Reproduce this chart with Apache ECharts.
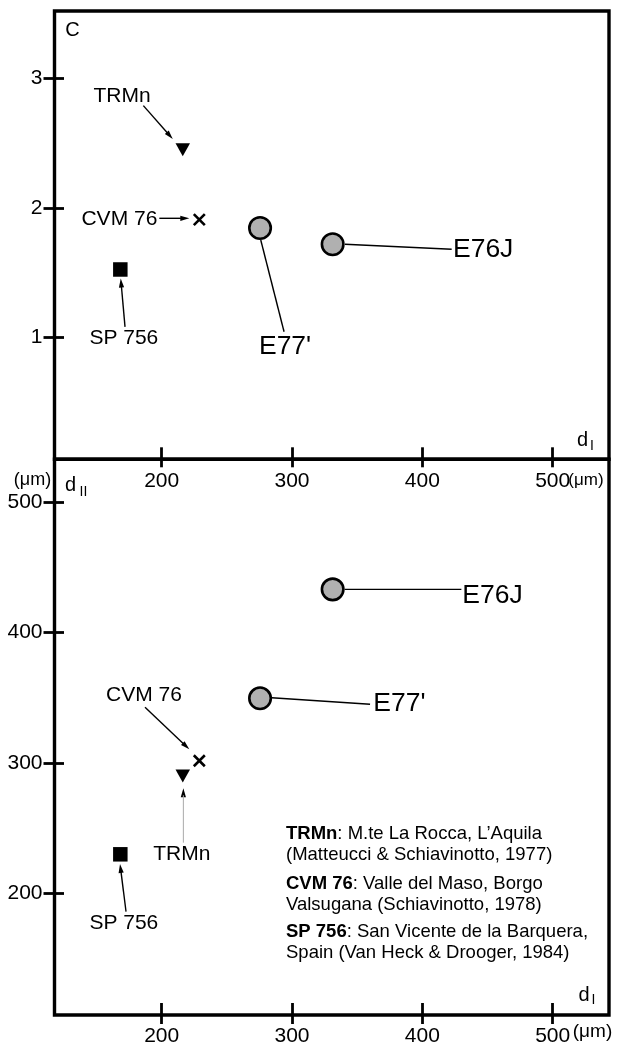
<!DOCTYPE html>
<html><head><meta charset="utf-8">
<script src="https://cdn.jsdelivr.net/npm/echarts@6/dist/echarts.min.js"></script>
<style>html,body{margin:0;padding:0;background:#fff}#c{width:617px;height:1047px}</style>
</head><body><div id="c"></div>
<script>
// ---- data ----
const samples = ['TRMn', 'CVM 76', 'SP 756', "E77'", 'E76J'];
const dI  = [216.2, 228.9, 168.3, 275.5, 331.2];
const C   = [2.45, 1.91, 1.525, 1.845, 1.72];
const dII = [290.0, 301.7, 229.9, 349.6, 433.2];
const xTicks = [200, 300, 400, 500];
const cTicks = [1, 2, 3];
const dIITicks = [200, 300, 400, 500];
const noteNames = ['TRMn', 'CVM 76', 'SP 756'];
const noteLine1 = [': M.te La Rocca, L\u2019Aquila', ': Valle del Maso, Borgo', ': San Vicente de la Barquera,'];
const noteLine2 = ['(Matteucci & Schiavinotto, 1977)', 'Valsugana (Schiavinotto, 1978)', 'Spain (Van Heck & Drooger, 1984)'];

// ---- styles ----
const FONT = 'Liberation Sans, Arial, sans-serif';
const markers = {
  'TRMn':   {symbol: 'triangle', symbolRotate: 180, symbolSize: [14.5, 13], itemStyle: {color: '#000', opacity: 1}},
  'CVM 76': {symbol: 'path://M0,0L10,10M10,0L0,10', symbolSize: 11, itemStyle: {color: 'none', borderColor: '#000', borderWidth: 2.6, opacity: 1}},
  'SP 756': {symbol: 'rect', symbolSize: 14.5, itemStyle: {color: '#000', opacity: 1}},
  "E77'":   {symbol: 'circle', symbolSize: 21.5, itemStyle: {color: '#b0b0b0', borderColor: '#000', borderWidth: 2.6, opacity: 1}},
  'E76J':   {symbol: 'circle', symbolSize: 21.5, itemStyle: {color: '#b0b0b0', borderColor: '#000', borderWidth: 2.6, opacity: 1}}
};
// annotation offsets (pixels, relative to marker centre)
const annTop = {
  'TRMn':   {t: [-60.7, -53], align: 'center', fs: 21, l: [[-39.4, -44], [-10, -10.7]], arrow: true},
  'CVM 76': {t: [-42, -0.7], align: 'right', fs: 21, l: [[-40, -1.3], [-10, -1.3]], arrow: true},
  'SP 756': {t: [3.5, 69], align: 'center', fs: 21, l: [[4.7, 57.4], [0.4, 9]], arrow: true},
  "E77'":   {t: [25, 118.7], align: 'center', fs: 26.5, l: [[0.7, 12], [24, 103.7]], arrow: false},
  'E76J':   {t: [120.3, 5], align: 'left', fs: 26.5, l: [[12.3, 0], [119, 5]], arrow: false}
};
const annBot = {
  'TRMn':   {t: [-1, 78], align: 'center', fs: 21, l: [[0.6, 66.7], [0.6, 12.3]], arrow: true, lc: '#aaa', lw: 1},
  'CVM 76': {t: [-55.3, -65.7], align: 'center', fs: 21, l: [[-54.3, -53.4], [-10, -11.4]], arrow: true},
  'SP 756': {t: [3.5, 69], align: 'center', fs: 21, l: [[5.7, 57.4], [-0.3, 9.7]], arrow: true},
  "E77'":   {t: [113.3, 5.7], align: 'left', fs: 26.5, l: [[11.7, -0.6], [110, 6]], arrow: false},
  'E76J':   {t: [129.7, 6.7], align: 'left', fs: 26.5, l: [[12, 0], [128.7, 0]], arrow: false}
};

function annRender(ann) {
  return function (params, api) {
    const name = samples[api.value(2)];
    const a = ann[name];
    const p = api.coord([api.value(0), api.value(1)]);
    const s = [p[0] + a.l[0][0], p[1] + a.l[0][1]];
    const e = [p[0] + a.l[1][0], p[1] + a.l[1][1]];
    const children = [];
    let le = e;
    if (a.arrow) {
      const dx = e[0] - s[0], dy = e[1] - s[1];
      const len = Math.sqrt(dx * dx + dy * dy);
      const ux = dx / len, uy = dy / len;
      const L = 9, W = 2.6;
      const b = [e[0] - ux * L, e[1] - uy * L];
      le = [e[0] - ux * (L - 2), e[1] - uy * (L - 2)];
      children.push({type: 'polygon', shape: {points: [e, [b[0] - uy * W, b[1] + ux * W], [b[0] + uy * W, b[1] - ux * W]]}, style: {fill: '#000'}});
    }
    children.push({type: 'line', shape: {x1: s[0], y1: s[1], x2: le[0], y2: le[1]}, style: {stroke: a.lc || '#000', lineWidth: a.lw || 1.4}});
    children.push({type: 'text', x: p[0] + a.t[0], y: p[1] + a.t[1],
      style: {text: name, fontSize: a.fs, fontFamily: FONT, fill: '#000', align: a.align, verticalAlign: 'middle'}});
    return {type: 'group', children: children};
  };
}

function xAx(grid, inside, len, labels) {
  return {gridIndex: grid, type: 'value', min: 117.8, max: 543.2, position: 'bottom',
    axisLine: {show: false, onZero: false}, splitLine: {show: false},
    axisTick: {show: true, inside: inside, length: len, customValues: xTicks, lineStyle: {color: '#000', width: 2.8}},
    axisLabel: {show: labels, customValues: xTicks, fontSize: 21, fontFamily: FONT, color: '#000', margin: 11}};
}
function yAx(grid, min, max, ticks, inside, len, labels) {
  return {gridIndex: grid, type: 'value', min: min, max: max, position: 'left',
    axisLine: {show: false, onZero: false}, splitLine: {show: false},
    axisTick: {show: true, inside: inside, length: len, customValues: ticks, lineStyle: {color: '#000', width: 2.8}},
    axisLabel: {show: labels, customValues: ticks, fontSize: 21, fontFamily: FONT, color: '#000', margin: 12}};
}

const series = [];
samples.forEach(function (n, i) {
  const m = markers[n];
  series.push(Object.assign({type: 'scatter', xAxisIndex: 0, yAxisIndex: 0, data: [[dI[i], C[i]]], z: 5, silent: true}, m));
  series.push(Object.assign({type: 'scatter', xAxisIndex: 2, yAxisIndex: 2, data: [[dI[i], dII[i]]], z: 5, silent: true}, m));
});
series.push({type: 'custom', xAxisIndex: 0, yAxisIndex: 0, clip: false, silent: true, z: 4,
  renderItem: annRender(annTop), data: dI.map(function (x, i) { return [x, C[i], i]; })});
series.push({type: 'custom', xAxisIndex: 2, yAxisIndex: 2, clip: false, silent: true, z: 4,
  renderItem: annRender(annBot), data: dI.map(function (x, i) { return [x, dII[i], i]; })});

function txt(x, y, t, fs, align) {
  return {type: 'text', x: x, y: y, silent: true,
    style: {text: t, fontSize: fs, fontFamily: FONT, fill: '#000', align: align || 'center', verticalAlign: 'middle'}};
}
const graphics = [
  txt(72.5, 30.7, 'C', 20),
  txt(582.5, 440, 'd', 20), txt(592, 446.5, 'I', 14),
  txt(586, 480, '(\u03bcm)', 17),
  txt(32.5, 480, '(\u03bcm)', 18),
  txt(70.5, 485.5, 'd', 20), txt(83.5, 492, 'II', 14),
  txt(584, 995, 'd', 20), txt(593.5, 1000.5, 'I', 14),
  txt(592.5, 1031.5, '(\u03bcm)', 19)
];
const noteY = [834, 883.5, 931.5];
noteNames.forEach(function (n, i) {
  graphics.push({type: 'text', x: 286, y: noteY[i], silent: true,
    style: {text: '{b|' + n + '}{r|' + noteLine1[i] + '}', verticalAlign: 'middle', align: 'left',
      rich: {b: {fontSize: 18.5, fontWeight: 'bold', fontFamily: FONT, fill: '#000'}, r: {fontSize: 18.5, fontFamily: FONT, fill: '#000'}}}});
  graphics.push(txt(286, noteY[i] + 21, noteLine2[i], 18.5, 'left'));
});

const chart = echarts.init(document.getElementById('c'), null, {renderer: 'canvas'});
chart.setOption({
  animation: false,
  backgroundColor: '#fff',
  grid: [
    {left: 54.5, top: 11, width: 554.5, height: 448.3, show: true, borderColor: '#000', borderWidth: 3.4},
    {left: 54.5, top: 459.3, width: 554.5, height: 555.7, show: true, borderColor: '#000', borderWidth: 3.4}
  ],
  xAxis: [xAx(0, true, 12, true), xAx(0, false, 8, false), xAx(1, true, 12, true), xAx(1, false, 9, false)],
  yAxis: [yAx(0, 0.06, 3.52, cTicks, false, 11, true), yAx(0, 0.06, 3.52, cTicks, true, 9.5, false),
          yAx(1, 106.6, 533, dIITicks, false, 11, true), yAx(1, 106.6, 533, dIITicks, true, 9.5, false)],
  series: series,
  graphic: graphics
});
</script></body></html>
